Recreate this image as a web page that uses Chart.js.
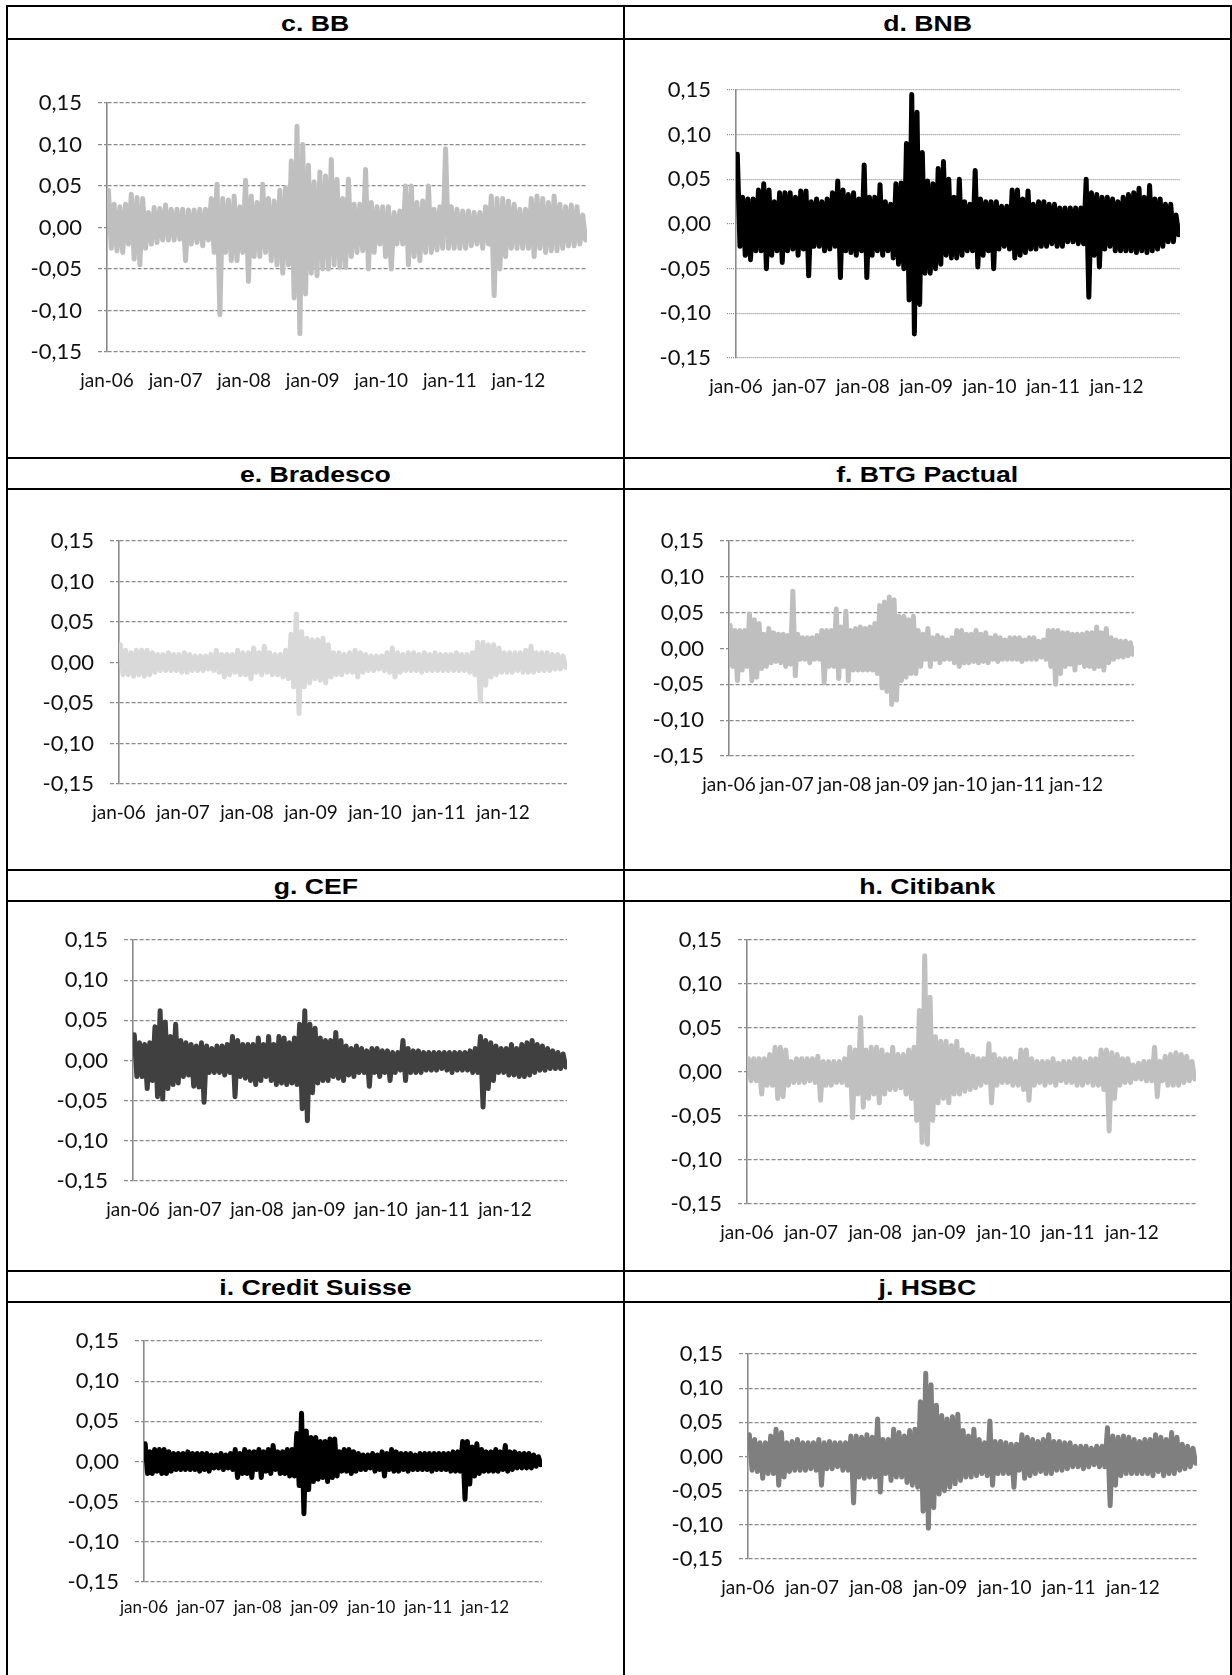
<!DOCTYPE html>
<html>
<head>
<meta charset="utf-8">
<script src="https://cdn.jsdelivr.net/npm/chart.js@4.4.1/dist/chart.umd.min.js"></script>
<style>
  html, body { margin: 0; padding: 0; background: #fff; }
  body { width: 1232px; height: 1675px; position: relative; overflow: hidden; font-family: "Liberation Sans", Arial, sans-serif; }
  .hline { position: absolute; height: 2px; background: #000; }
  .vline { position: absolute; width: 2px; background: #000; }
  .head { position: absolute; display: flex; align-items: center; justify-content: center; font-weight: bold; font-size: 22px; padding-top: 2px; box-sizing: border-box; }
  .head span { display: inline-block; transform: scaleX(1.21); }
  canvas { position: absolute; }
</style>
</head>
<body>
<script>
// daily returns shown as the monthly envelope (highest / lowest value of each month),
// values in thousandths, jan-06 .. dec-12
const months = 84;
const xTickMonths = [0, 12, 24, 36, 48, 60, 72];
const xTickLabels = ["jan-06", "jan-07", "jan-08", "jan-09", "jan-10", "jan-11", "jan-12"];
const yTicks = [-0.15, -0.10, -0.05, 0, 0.05, 0.10, 0.15];
const yTickLabels = ["-0,15", "-0,10", "-0,05", "0,00", "0,05", "0,10", "0,15"];

const bbHigh = [45,28,25,28,40,36,35,18,24,23,27,22, 22,22,21,21,22,22,35,52,35,33,38,25, 57,38,30,52,35,32,45,48,80,122,100,75, 55,67,62,82,58,35,58,28,28,70,30,25, 25,25,18,20,50,50,30,32,50,22,25,95, 25,22,20,20,18,18,25,38,35,35,32,28, 22,22,35,38,35,30,38,28,25,27,25,15];
const bbLow = [-25,-28,-30,-20,-38,-45,-25,-20,-18,-15,-15,-15, -14,-40,-20,-18,-22,-15,-30,-105,-30,-40,-40,-30, -65,-35,-35,-30,-40,-45,-55,-45,-85,-128,-80,-55, -58,-50,-50,-45,-48,-48,-35,-30,-28,-50,-30,-20, -35,-50,-20,-20,-45,-35,-40,-30,-30,-27,-25,-25, -25,-25,-25,-22,-20,-25,-20,-82,-50,-35,-25,-25, -25,-25,-35,-25,-30,-28,-28,-25,-22,-22,-20,-15];

const bnbHigh = [78,30,28,28,38,45,38,25,35,35,35,30, 37,37,25,28,25,28,35,48,38,33,35,28, 66,30,30,44,25,22,45,46,90,145,125,80, 48,45,62,70,50,30,50,25,22,60,28,25, 25,25,20,20,38,38,28,37,22,25,25,22, 22,18,18,18,18,18,50,35,33,30,30,28, 25,30,33,35,40,30,43,28,28,22,22,10];
const bnbLow = [-25,-35,-40,-30,-30,-50,-35,-30,-43,-30,-28,-35, -28,-58,-25,-25,-30,-28,-25,-60,-30,-32,-35,-30, -60,-35,-30,-35,-30,-38,-45,-50,-85,-123,-90,-55, -55,-50,-45,-35,-38,-38,-35,-30,-30,-48,-35,-30, -50,-28,-25,-28,-38,-35,-32,-28,-28,-25,-25,-22, -25,-25,-20,-20,-22,-22,-82,-35,-48,-28,-25,-30, -30,-30,-30,-32,-30,-32,-30,-28,-25,-20,-20,-12];

const bradescoHigh = [22,15,12,15,15,15,12,10,10,12,10,10, 12,10,8,8,8,10,15,10,10,10,15,12, 12,18,12,20,12,10,10,15,35,60,38,30, 28,28,30,22,12,12,10,12,15,12,10,8, 8,8,12,18,12,10,12,12,10,12,10,12, 10,10,10,12,10,10,12,25,25,22,22,18, 12,12,12,12,15,20,12,12,12,10,10,8];
const bradescoLow = [-15,-15,-17,-15,-17,-15,-12,-10,-10,-10,-10,-12, -12,-10,-10,-10,-8,-10,-12,-18,-15,-12,-15,-15, -20,-12,-15,-12,-15,-15,-18,-20,-30,-63,-30,-25, -20,-22,-25,-18,-15,-15,-12,-12,-18,-12,-10,-10, -8,-10,-12,-18,-12,-10,-10,-10,-12,-10,-10,-10, -10,-10,-10,-10,-10,-12,-15,-47,-28,-18,-15,-12, -12,-12,-10,-12,-12,-12,-10,-10,-10,-8,-8,-6];

const btgHigh = [32,25,25,25,48,40,35,20,28,22,20,20, 18,80,20,15,15,15,18,25,25,25,55,30, 52,25,28,30,28,30,35,60,65,72,68,45, 45,40,45,25,20,28,15,18,15,12,15,25, 25,20,20,25,20,22,15,18,15,12,15,15, 15,12,15,15,10,12,25,25,25,22,22,20, 20,20,22,22,30,22,28,15,12,10,10,8];
const btgLow = [-25,-45,-30,-25,-45,-40,-28,-25,-20,-18,-20,-25, -22,-38,-15,-15,-20,-15,-15,-48,-25,-25,-42,-25, -45,-30,-30,-30,-30,-30,-35,-55,-60,-78,-72,-45, -40,-35,-35,-25,-15,-25,-15,-20,-15,-15,-20,-25, -20,-20,-18,-20,-18,-20,-15,-18,-15,-15,-15,-15, -18,-15,-15,-15,-12,-15,-25,-50,-35,-25,-22,-30, -20,-25,-25,-28,-25,-30,-20,-15,-12,-12,-10,-8];

const cefHigh = [32,22,20,22,42,62,48,30,45,25,22,20, 18,22,18,15,18,18,20,30,25,20,20,20, 28,20,30,20,30,28,22,28,45,62,45,40, 28,25,25,35,25,18,15,18,15,12,15,15, 12,12,10,10,25,15,12,12,10,10,10,10, 10,10,10,10,10,12,15,30,25,22,18,15, 15,20,15,20,22,25,20,18,15,12,10,8];
const cefLow = [-20,-20,-35,-25,-45,-48,-35,-30,-28,-20,-18,-32, -33,-52,-15,-15,-15,-18,-15,-45,-20,-22,-25,-30, -25,-20,-25,-30,-28,-30,-28,-30,-60,-75,-40,-28, -25,-25,-20,-22,-25,-18,-20,-15,-15,-32,-15,-20, -15,-25,-15,-12,-25,-15,-15,-15,-12,-12,-12,-10, -12,-15,-12,-12,-12,-15,-15,-58,-35,-25,-15,-15, -18,-18,-20,-20,-18,-15,-12,-12,-10,-10,-10,-8];

const citiHigh = [15,15,15,15,20,28,28,25,12,15,15,15, 15,18,12,12,12,12,15,28,25,62,25,28, 28,25,20,28,20,20,25,28,70,132,85,40, 35,35,30,35,25,20,18,15,15,32,20,15, 15,15,12,25,25,15,12,12,12,15,10,12, 12,15,15,12,15,15,25,25,22,20,15,15, 8,10,12,12,28,12,18,20,22,20,18,12];
const citiLow = [-10,-10,-25,-15,-15,-30,-28,-15,-12,-12,-12,-10, -12,-32,-15,-15,-12,-12,-15,-52,-25,-40,-30,-25, -35,-25,-20,-20,-18,-25,-30,-55,-80,-82,-55,-35, -30,-35,-25,-25,-22,-20,-18,-15,-12,-35,-15,-12, -12,-15,-15,-20,-32,-15,-12,-15,-12,-15,-10,-12, -12,-15,-15,-12,-15,-15,-20,-67,-30,-15,-12,-12, -8,-8,-10,-10,-28,-10,-15,-15,-15,-12,-10,-8];

const csHigh = [22,12,15,15,15,12,10,10,10,12,10,10, 10,10,8,8,10,8,10,15,10,15,12,12, 15,12,15,20,12,12,15,15,35,60,38,30, 30,25,25,28,28,12,15,15,12,10,8,8, 10,8,12,10,15,12,10,10,10,8,10,10, 10,10,10,10,10,12,12,25,25,18,22,15, 12,12,15,12,20,12,12,10,10,10,8,6];
const csLow = [-15,-15,-12,-15,-15,-12,-10,-10,-10,-10,-10,-12, -10,-12,-8,-8,-10,-8,-10,-20,-15,-15,-20,-10, -20,-12,-15,-10,-15,-15,-18,-18,-30,-65,-35,-25, -22,-20,-25,-20,-18,-12,-12,-15,-12,-10,-10,-8, -12,-10,-18,-10,-12,-12,-10,-12,-10,-10,-10,-10, -12,-10,-10,-10,-12,-12,-12,-47,-28,-18,-15,-12, -12,-12,-12,-10,-12,-10,-8,-8,-8,-8,-6,-4];

const hsbcHigh = [32,25,20,20,30,40,35,20,22,25,20,20, 20,25,20,22,20,20,20,30,30,28,32,28, 55,25,25,40,35,30,38,40,80,122,105,75, 60,55,58,62,38,30,40,25,20,52,22,22, 20,18,18,32,28,25,22,25,32,22,22,20, 20,15,15,15,12,15,15,42,30,28,30,28, 25,22,25,25,32,28,25,35,28,18,15,12];
const hsbcLow = [-20,-22,-32,-25,-25,-42,-30,-22,-20,-20,-20,-18, -20,-42,-18,-18,-15,-20,-20,-68,-30,-32,-30,-30, -52,-25,-35,-30,-30,-38,-42,-45,-80,-105,-75,-55, -50,-45,-40,-35,-30,-30,-28,-25,-28,-42,-25,-25, -25,-45,-20,-32,-28,-25,-22,-25,-25,-20,-20,-18, -15,-15,-18,-15,-12,-15,-15,-72,-42,-28,-25,-25, -25,-25,-25,-28,-22,-28,-25,-25,-20,-18,-15,-10];

// table geometry
const hLines = [5, 38, 457, 488, 869, 900, 1270, 1301];
const vLines = [6, 623, 1230];
const cols = [[8, 623], [625, 1230]];
const rows = [
  { head: [7, 38], body: [40, 457] },
  { head: [459, 488], body: [490, 869] },
  { head: [871, 900], body: [902, 1270] },
  { head: [1272, 1301], body: [1303, 1675] }
];

const DASH = [4, 2];
const DOTS = [1, 1];

const panels = [
  { title: "c. BB", high: bbHigh, low: bbLow, color: "#bfbfbf", dash: DASH, col: 0, row: 0, plot: [107, 103, 587, 352] },
  { title: "d. BNB", high: bnbHigh, low: bnbLow, color: "#000000", dash: DOTS, col: 1, row: 0, plot: [736, 90, 1180, 358] },
  { title: "e. Bradesco", high: bradescoHigh, low: bradescoLow, color: "#d9d9d9", dash: DASH, col: 0, row: 1, plot: [119, 541, 567, 784] },
  { title: "f. BTG Pactual", high: btgHigh, low: btgLow, color: "#bfbfbf", dash: DASH, col: 1, row: 1, plot: [729, 541, 1134, 756] },
  { title: "g. CEF", high: cefHigh, low: cefLow, color: "#404040", dash: DASH, col: 0, row: 2, plot: [133, 940, 567, 1181] },
  { title: "h. Citibank", high: citiHigh, low: citiLow, color: "#c0c0c0", dash: DASH, col: 1, row: 2, plot: [747, 940, 1196, 1204] },
  { title: "i. Credit Suisse", high: csHigh, low: csLow, color: "#000000", dash: DASH, col: 0, row: 3, plot: [144, 1341, 542, 1582], xFont: 17, xPad: 7 },
  { title: "j. HSBC", high: hsbcHigh, low: hsbcLow, color: "#7f7f7f", dash: DASH, col: 1, row: 3, plot: [748, 1354, 1197, 1559] }
];

function addDiv(cls, style, text) {
  const d = document.createElement("div");
  d.className = cls;
  Object.assign(d.style, style);
  if (text) {
    const s = document.createElement("span");
    s.textContent = text;
    d.appendChild(s);
  }
  document.body.appendChild(d);
  return d;
}

hLines.forEach(y => addDiv("hline", { left: "6px", top: y + "px", width: "1226px" }));
vLines.forEach(x => addDiv("vline", { left: x + "px", top: "5px", height: "1670px" }));

function envelope(high, low) {
  const pts = [];
  for (let m = 0; m < high.length; m++) {
    pts.push({ x: m + 0.25, y: high[m] / 1000 });
    pts.push({ x: m + 0.75, y: low[m] / 1000 });
  }
  return pts;
}

function drawPanel(p) {
  const [cx0, cx1] = cols[p.col];
  const r = rows[p.row];
  addDiv("head", { left: cx0 + "px", top: r.head[0] + "px", width: (cx1 - cx0) + "px", height: (r.head[1] - r.head[0]) + "px" }, p.title);

  const w = cx1 - cx0, h = r.body[1] - r.body[0];
  const [pl, pt, pr, pb] = p.plot;
  const yW = pl - cx0, xH = r.body[1] - pb;

  const canvas = document.createElement("canvas");
  canvas.width = w;
  canvas.height = h;
  canvas.style.left = cx0 + "px";
  canvas.style.top = r.body[0] + "px";
  document.body.appendChild(canvas);

  new Chart(canvas, {
    type: "line",
    data: {
      datasets: [{
        data: envelope(p.high, p.low),
        borderColor: p.color,
        borderWidth: 5,
        borderJoinStyle: "round",
        borderCapStyle: "round",
        pointRadius: 0,
        tension: 0,
        fill: false
      }]
    },
    options: {
      responsive: false,
      animation: false,
      events: [],
      layout: { padding: { top: pt - r.body[0], right: cx1 - pr, left: 0, bottom: 0 } },
      plugins: { legend: { display: false }, tooltip: { enabled: false } },
      scales: {
        x: {
          type: "linear",
          min: 0,
          max: months,
          grid: { display: false },
          border: { display: false },
          afterBuildTicks: s => { s.ticks = xTickMonths.map(v => ({ value: v })); },
          ticks: {
            autoSkip: false,
            maxRotation: 0,
            padding: p.xPad || 9,
            color: "#111",
            font: { family: "Lato", size: p.xFont || 19 },
            callback: (v, i) => xTickLabels[i]
          },
          afterFit: s => { s.height = xH; s.paddingLeft = 0; s.paddingRight = 0; }
        },
        y: {
          min: -0.15,
          max: 0.15,
          afterBuildTicks: s => { s.ticks = yTicks.map(v => ({ value: v })); },
          grid: { color: "#8a8a8a", lineWidth: 1.2, tickLength: 9, tickColor: "#8a8a8a", tickBorderDash: p.dash },
          border: { display: true, color: "#8a8a8a", width: 1.6, dash: p.dash },
          ticks: {
            padding: 16,
            color: "#111",
            font: { family: "Lato", size: 22 },
            callback: (v, i) => yTickLabels[i]
          },
          afterFit: s => { s.width = yW; s.paddingTop = 0; s.paddingBottom = 0; }
        }
      }
    }
  });
}

Promise.all([
  document.fonts.load("22px Lato"),
  document.fonts.load('bold 22px "Liberation Sans"')
]).catch(() => {}).then(() => panels.forEach(drawPanel));
</script>
</body>
</html>
